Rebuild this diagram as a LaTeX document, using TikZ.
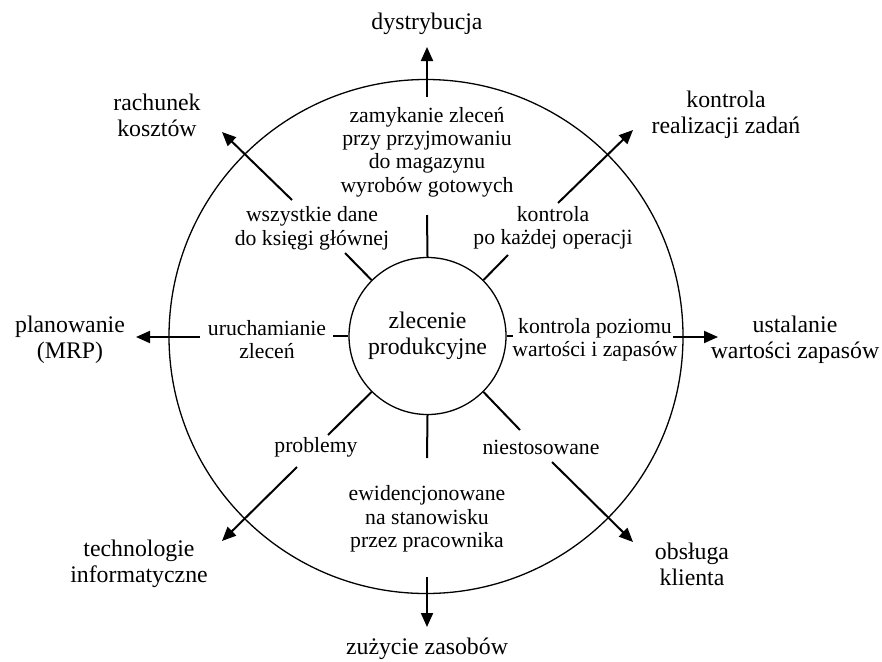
\documentclass[tikz,border=0pt]{standalone}
\usepackage{fontspec}
\setmainfont{Liberation Serif}
\usetikzlibrary{arrows.meta}
\begin{document}
\begin{tikzpicture}[x=1pt,y=-1pt,
  lbl/.style={align=center,inner sep=0pt,font=\fontsize{21.7}{23.4}\selectfont},
  biglbl/.style={align=center,inner sep=0pt,font=\fontsize{23.8}{25.8}\selectfont},
  ringstyle/.style={draw,circle,line width=1.3pt,inner sep=0pt},
  spoke/.style={line width=2pt},
  flow/.style={line width=2pt,-{Triangle[length=14pt,width=12pt]}}]
\useasboundingbox (0,0) rectangle (882,661);
% circles
\node[ringstyle,minimum size=514pt] (ring) at (426,336.5) {};
\node[ringstyle,biglbl,minimum size=157pt] (core) at (427.5,336) {zlecenie\\produkcyjne};
% outer labels
\node[biglbl] (dyst) at (427,24) {dystrybucja};
\node[biglbl] (rach) at (157,115) {rachunek\\kosztów};
\node[biglbl] (krz) at (726,115) {kontrola\\realizacji zadań};
\node[biglbl] (plan) at (70,339.5) {planowanie\\(MRP)};
\node[biglbl] (ustal) at (795,339.5) {ustalanie\\wartości zapasów};
\node[biglbl] (tech) at (139,563.5) {technologie\\informatyczne};
\node[biglbl] (obsl) at (692,564.5) {obsługa\\klienta};
\node[biglbl] (zuz) at (427,649) {zużycie zasobów};
% inner labels
\node[lbl] (zam) at (427,152) {zamykanie zleceń\\przy przyjmowaniu\\do magazynu\\wyrobów gotowych};
\node[lbl] (wsz) at (312,228.5) {wszystkie dane\\do księgi głównej};
\node[lbl] (kpo) at (553,228) {kontrola\\po każdej operacji};
\node[lbl] (uru) at (267,339.5) {uruchamianie\\zleceń};
\node[lbl] (kpz) at (595,339.5) {kontrola poziomu\\wartości i zapasów};
\node[lbl] (prob) at (316,447) {problemy};
\node[lbl] (nies) at (541,447) {niestosowane};
\node[lbl] (ewid) at (427,519) {ewidencjonowane\\na stanowisku\\przez pracownika};
% spoke ends
\coordinate (sT) at (427,215);
\coordinate (sUL) at (345,253);
\coordinate (sUR) at (508,255);
\coordinate (sL) at (333,336);
\coordinate (sR) at (513,336);
\coordinate (sLL) at (328,435);
\coordinate (sLR) at (520,430);
\coordinate (sB) at (427,458);
\draw[spoke] (core.90) -- (sT);
\draw[spoke] (core.135) -- (sUL);
\draw[spoke] (core.45) -- (sUR);
\draw[spoke] (core.180) -- (sL);
\draw[spoke] (core.0) -- (sR);
\draw[spoke] (core.225) -- (sLL);
\draw[spoke] (core.315) -- (sLR);
\draw[spoke] (core.270) -- (sB);
% arrow ends
\coordinate (aTs) at (427,97);   \coordinate (aTe) at (427,47);
\coordinate (aULs) at (292,200); \coordinate (aULe) at (222,132);
\coordinate (aURs) at (558,203); \coordinate (aURe) at (633,130);
\coordinate (aLs) at (200,337);  \coordinate (aLe) at (136,337);
\coordinate (aRs) at (673,337);  \coordinate (aRe) at (718,337);
\coordinate (aLLs) at (297,467); \coordinate (aLLe) at (222,541);
\coordinate (aLRs) at (552,462); \coordinate (aLRe) at (633,542);
\coordinate (aBs) at (427,577);  \coordinate (aBe) at (427,627);
\draw[flow] (aTs) -- (aTe);
\draw[flow] (aULs) -- (aULe);
\draw[flow] (aURs) -- (aURe);
\draw[flow] (aLs) -- (aLe);
\draw[flow] (aRs) -- (aRe);
\draw[flow] (aLLs) -- (aLLe);
\draw[flow] (aLRs) -- (aLRe);
\draw[flow] (aBs) -- (aBe);
\end{tikzpicture}
\end{document}
